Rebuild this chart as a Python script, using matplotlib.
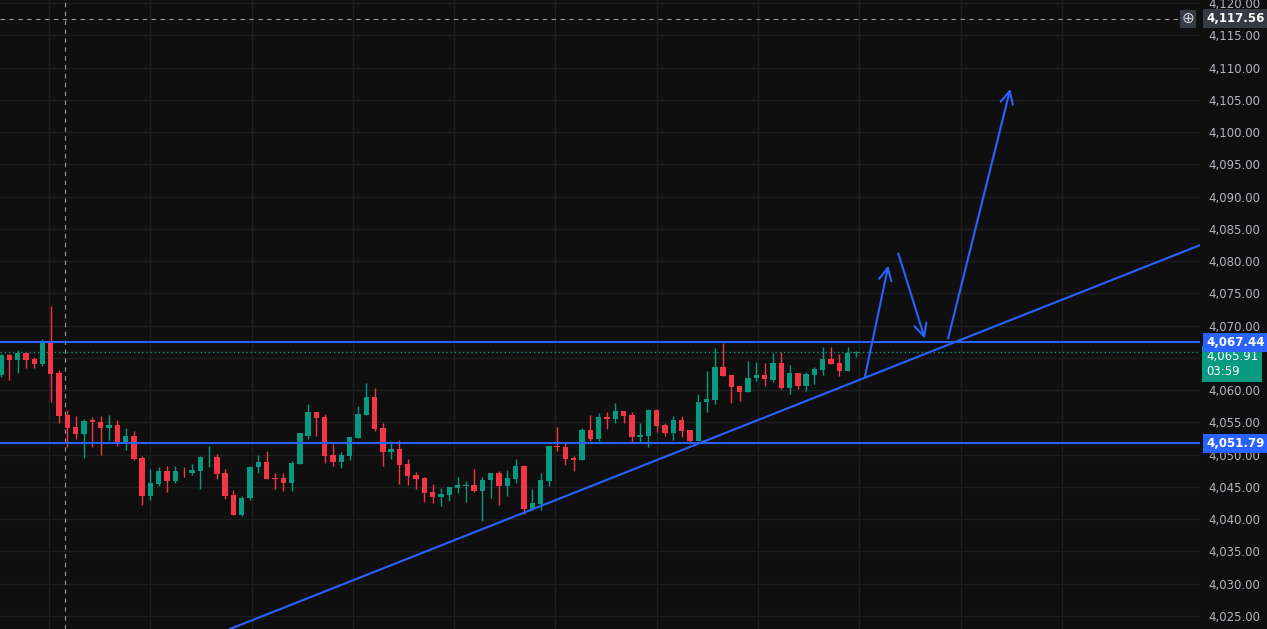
import matplotlib
matplotlib.use("Agg")
import matplotlib.pyplot as plt
from matplotlib.patches import Rectangle
from matplotlib.transforms import blended_transform_factory
import numpy as np

opens = [4062.3,4065.4,4064.7,4065.8,4064.8,4064.1,4067.3,4062.6,4056.1,4054.3,
         4053.2,4055.3,4055.1,4054.1,4054.6,4051.7,4052.9,4049.5,4043.6,4045.5,
         4047.5,4045.9,4047.5,4047.1,4047.5,4049.6,4049.7,4047.2,4043.8,4040.6,
         4043.3,4048.1,4048.9,4046.3,4046.4,4045.6,4048.6,4052.9,4056.6,4055.8,
         4049.9,4048.8,4049.8,4052.6,4056.1,4058.9,4054.1,4050.4,4050.9,4048.6,
         4046.8,4046.4,4044.2,4043.4,4043.8,4044.8,4045.2,4045.3,4044.4,4046.1,
         4047.2,4045.2,4046.3,4048.3,4041.6,4042.4,4046.0,4051.4,4051.2,4049.5,
         4049.2,4053.8,4052.4,4055.8,4055.5,4056.7,4056.1,4052.8,4052.9,4056.9,
         4054.6,4053.4,4055.4,4053.8,4052.1,4058.2,4058.5,4063.6,4062.3,4060.6,
         4059.7,4061.9,4062.4,4061.6,4064.2,4060.3,4062.7,4060.6,4062.4,4063.1,
         4064.9,4064.2,4063.0,4065.8]
closes = [4065.4,4064.7,4065.8,4064.7,4064.1,4067.3,4062.5,4056.0,4054.1,4053.2,
          4055.2,4055.1,4054.1,4054.6,4051.7,4052.9,4049.3,4043.6,4045.6,4047.5,
          4045.9,4047.5,4047.4,4047.6,4049.6,4049.7,4047.0,4043.6,4040.6,4043.3,
          4048.1,4048.9,4046.2,4046.2,4045.6,4048.7,4053.3,4056.6,4055.7,4049.8,
          4048.8,4049.9,4052.7,4056.3,4058.9,4054.0,4050.4,4050.9,4048.4,4046.7,
          4046.2,4044.1,4043.4,4043.9,4045.0,4045.3,4045.3,4044.4,4046.1,4047.2,
          4045.2,4046.4,4048.3,4041.6,4042.5,4046.1,4051.3,4051.2,4049.3,4049.2,
          4053.8,4052.4,4055.8,4055.6,4056.7,4056.0,4052.7,4053.0,4056.9,4054.4,
          4053.4,4055.4,4053.7,4052.1,4058.2,4058.6,4063.6,4062.2,4060.5,4059.7,
          4061.9,4062.4,4061.7,4064.2,4060.3,4062.7,4060.6,4062.5,4063.3,4064.9,
          4064.1,4063.0,4065.8,4065.9]
highs = [4065.6,4065.6,4066.2,4065.9,4065.2,4067.9,4073.0,4063.1,4056.9,4056.0,
         4055.5,4055.8,4056.0,4056.1,4055.4,4054.1,4053.7,4049.8,4047.8,4048.1,
         4048.2,4048.2,4048.1,4048.5,4049.8,4051.3,4050.1,4047.8,4044.6,4043.6,
         4048.3,4050.0,4050.6,4047.2,4047.2,4049.1,4053.4,4057.9,4056.6,4056.3,
         4051.6,4050.4,4052.7,4057.5,4061.1,4060.3,4054.9,4052.1,4052.3,4049.3,
         4047.3,4046.5,4045.5,4044.8,4045.0,4046.5,4045.9,4047.8,4046.5,4047.2,
         4047.5,4047.6,4049.3,4048.4,4044.7,4047.2,4051.3,4054.3,4051.8,4049.8,
         4054.2,4056.1,4056.5,4056.6,4058.0,4056.8,4056.6,4054.9,4057.1,4057.1,
         4054.9,4056.0,4056.0,4053.8,4059.4,4063.0,4066.5,4067.3,4062.3,4060.6,
         4064.5,4064.4,4064.2,4065.8,4065.9,4063.9,4062.7,4062.8,4063.6,4066.7,
         4066.7,4065.6,4066.7,4066.1]
lows = [4062.0,4061.6,4062.6,4063.4,4063.5,4063.7,4058.2,4054.9,4051.2,4052.4,
        4049.5,4051.2,4050.0,4052.3,4051.4,4050.7,4049.2,4042.2,4043.0,4045.1,
        4044.2,4045.6,4046.5,4046.8,4044.7,4048.1,4046.2,4043.1,4040.6,4040.5,
        4043.0,4047.2,4046.2,4044.7,4044.4,4044.4,4048.6,4052.4,4052.9,4048.7,
        4048.2,4047.9,4049.2,4052.6,4056.1,4053.7,4048.2,4049.3,4045.5,4045.3,
        4044.7,4042.7,4042.5,4042.0,4042.8,4044.1,4042.7,4044.2,4039.7,4043.3,
        4042.2,4043.6,4045.6,4040.8,4041.4,4041.4,4045.2,4050.5,4048.4,4047.5,
        4049.2,4052.1,4052.1,4054.0,4054.9,4054.9,4051.8,4052.0,4051.2,4053.5,
        4052.9,4052.3,4052.7,4051.7,4052.1,4056.6,4057.9,4062.2,4058.0,4058.3,
        4059.7,4061.4,4060.6,4061.3,4060.2,4059.4,4060.2,4059.9,4061.0,4062.3,
        4064.0,4062.2,4063.0,4065.2]

resistance = 4067.44
support = 4051.79
last_price = 4065.91
cross_price = 4117.56
cross_idx = 7.7
trend_x = [27.6, 144.5]
trend_y = [4023.0, 4082.5]
arrow_paths = [((104.1, 4062.2), (106.9, 4079.3)),
               ((108.1, 4081.2), (111.3, 4068.0)),
               ((114.1, 4068.0), (121.6, 4106.7))]
yticks = list(range(4025, 4121, 5))
hidden_tick = 4065

BG = "#0f0f0f"; GREEN = "#089981"; RED = "#f23645"; BLUE = "#2962ff"

fig = plt.figure(figsize=(12.67, 6.29), dpi=100, facecolor=BG)
ax = fig.add_axes([0, 0, 1200/1267, 1])
ax.set_facecolor(BG)
ax.set_xlim(-0.12, 144.45)
ax.set_ylim(4022.99, 4120.46)

for v in yticks:
    ax.axhline(v, color="#1f1f1f", lw=1, zorder=0)
for xv in np.arange(5.8, 140, 12.2):
    ax.axvline(xv, color="#1f1f1f", lw=1, zorder=0)

w = 0.65
for i, (o, c, h, l) in enumerate(zip(opens, closes, highs, lows)):
    col = GREEN if c >= o else RED
    ax.vlines(i, l, h, color=col, lw=1, zorder=3)
    bh = max(abs(c - o), 0.12)
    ax.add_patch(Rectangle((i - w/2, min(o, c)), w, bh, color=col, lw=0, zorder=4))

ax.axhline(resistance, color=BLUE, lw=1.5, zorder=5)
ax.axhline(support, color=BLUE, lw=1.5, zorder=5)
ax.axhline(last_price, color=GREEN, lw=1, ls=(0, (1, 2)), zorder=2)
ax.axhline(cross_price, color="#9a9a9a", lw=0.8, ls=(0, (4, 4)), zorder=2)
ax.axvline(cross_idx, color="#9a9a9a", lw=0.8, ls=(0, (4, 4)), zorder=2)
ax.plot(trend_x, trend_y, color=BLUE, lw=1.5, zorder=5)
for (p0, p1) in arrow_paths:
    ax.annotate("", xy=p1, xytext=p0,
                arrowprops=dict(arrowstyle="->,head_length=0.9,head_width=0.45",
                                color=BLUE, lw=1.5, shrinkA=0, shrinkB=0), zorder=6)

ax.yaxis.tick_right()
ax.set_yticks(yticks)
ax.set_yticklabels(["" if v == hidden_tick else f"{v:,.2f}" for v in yticks],
                   color="#b2b5be", fontsize=8.5)
ax.tick_params(axis="y", length=0, pad=6)
ax.set_xticks([])
for s in ax.spines.values():
    s.set_visible(False)

tr = blended_transform_factory(ax.transAxes, ax.transData)
def tag(y, txt, fc, tc="white"):
    ax.text(1.005, y, txt, transform=tr, fontsize=8.5, color=tc, fontweight="bold",
            va="center", ha="left", zorder=10, clip_on=False,
            bbox=dict(boxstyle="square,pad=0.25", fc=fc, ec="none"))
tag(resistance, "4,067.44", BLUE)
tag(support, "4,051.79", BLUE)
tag(cross_price, "4,117.56", "#363a45")
ax.text(1.005, 4066.3, "4,065.91\n03:59", transform=tr, fontsize=8.5,
        color="white", va="top", ha="left", zorder=9, clip_on=False,
        linespacing=1.25,
        bbox=dict(boxstyle="square,pad=0.3", fc=GREEN, ec="none"))
ax.text(0.99, cross_price, "⊕", transform=tr, fontsize=11, color="#d1d4dc",
        va="center", ha="center", clip_on=False, zorder=10,
        bbox=dict(boxstyle="square,pad=0.1", fc="#363a45", ec="none"))

fig.savefig("out.png", dpi=100, facecolor=BG)
